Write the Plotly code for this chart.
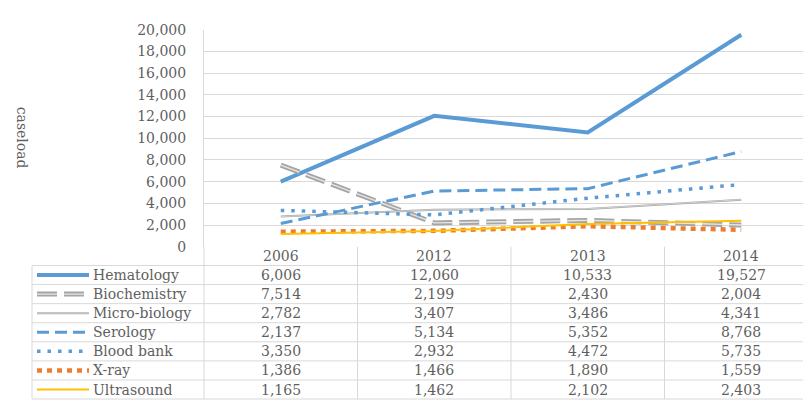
import plotly.graph_objects as go

# ---- data -------------------------------------------------------------
years = ["2006", "2012", "2013", "2014"]
hematology = [6006, 12060, 10533, 19527]
biochemistry = [7514, 2199, 2430, 2004]
microbiology = [2782, 3407, 3486, 4341]
serology = [2137, 5134, 5352, 8768]
blood_bank = [3350, 2932, 4472, 5735]
xray = [1386, 1466, 1890, 1559]
ultrasound = [1165, 1462, 2102, 2403]

y_ticks = list(range(0, 20001, 2000))

W, H = 803, 408
FONT = "DejaVu Serif"
TXT = "#5f5f5f"
GRID = "#D9D9D9"
FS = 14

series = [
    ("Hematology", hematology, dict(color="#5B9BD5", width=4, dash="solid")),
    ("Biochemistry", biochemistry, dict(color="#A5A5A5", width=5, dash="20px,7px")),
    ("Micro-biology", microbiology, dict(color="#A5A5A5", width=2, dash="solid")),
    ("Serology", serology, dict(color="#5B9BD5", width=3, dash="12px,6px")),
    ("Blood bank", blood_bank, dict(color="#5B9BD5", width=3.5, dash="3.5px,7px")),
    ("X-ray", xray, dict(color="#ED7D31", width=4.5, dash="5px,5px")),
    ("Ultrasound", ultrasound, dict(color="#FFC000", width=2, dash="solid")),
]

# inner highlight for the double-stroke styles
inner = {
    "Biochemistry": dict(color="#E6E6E6", width=1.4, dash="20px,7px"),
    "Micro-biology": dict(color="#EFEFEF", width=0.6, dash="solid"),
}

fig = go.Figure()
for name, vals, ln in series:
    fig.add_trace(go.Scatter(x=years, y=vals, mode="lines", name=name,
                             line=ln, showlegend=False, hoverinfo="skip"))
    if name in inner:
        fig.add_trace(go.Scatter(x=years, y=vals, mode="lines",
                                 line=inner[name], showlegend=False,
                                 hoverinfo="skip"))

# ---- layout geometry (pixels -> paper) --------------------------------
def px(x):
    return x / W

def py(y):
    return 1 - y / H

plot_left = 204
plot_top = 22.5
plot_bottom = 248.5
col_w = 153.5
cols = [plot_left + i * col_w for i in range(len(years) + 1)]
x_right_units = (W - plot_left) / col_w - 0.5

fig.update_layout(
    width=W, height=H,
    margin=dict(l=0, r=0, t=0, b=0),
    paper_bgcolor="white", plot_bgcolor="white",
    font=dict(family=FONT, color=TXT, size=FS),
    xaxis=dict(domain=[px(plot_left), 1], range=[-0.5, x_right_units],
               type="category", showticklabels=False, showgrid=False,
               zeroline=False, showline=False, fixedrange=True),
    yaxis=dict(domain=[py(plot_bottom), py(plot_top)], range=[0, 20000],
               tickvals=y_ticks, tickformat=",", showgrid=True,
               gridcolor=GRID, gridwidth=1, zeroline=False,
               showline=True, linecolor=GRID, linewidth=1,
               ticks="outside", ticklen=0, ticklabelstandoff=14,
               tickfont=dict(family=FONT, size=FS, color=TXT),
               fixedrange=True),
)

# y-axis title
fig.add_annotation(x=px(22), y=py(135), xref="paper", yref="paper",
                   text="caseload", textangle=90, showarrow=False,
                   xanchor="center", yanchor="middle",
                   font=dict(family=FONT, size=FS, color=TXT))

# ---- data table -------------------------------------------------------
shapes = []
header_top = plot_bottom
header_bot = 268
row_h = (407 - header_bot) / len(series)
row_edges = [header_bot + i * row_h for i in range(len(series) + 1)]
table_left = 32

def hline(x0, x1, y):
    shapes.append(dict(type="line", xref="paper", yref="paper",
                       x0=px(x0), x1=px(x1), y0=py(y), y1=py(y),
                       line=dict(color=GRID, width=1)))

def vline(x, y0, y1):
    shapes.append(dict(type="line", xref="paper", yref="paper",
                       x0=px(x), x1=px(x), y0=py(y0), y1=py(y1),
                       line=dict(color=GRID, width=1)))

for y in row_edges:
    hline(table_left, W, y)
vline(table_left, row_edges[0], row_edges[-1])
for x in cols:
    if x <= W:
        vline(x, header_top, row_edges[-1])

# header row
for i, yr in enumerate(years):
    cx = (cols[i] + cols[i + 1]) / 2
    fig.add_annotation(x=px(cx), y=py((header_top + header_bot) / 2),
                       xref="paper", yref="paper", text=yr,
                       showarrow=False, xanchor="center", yanchor="middle",
                       font=dict(family=FONT, size=FS, color=TXT))

# body rows: legend key, name, values
for r, (name, vals, ln) in enumerate(series):
    cy = (row_edges[r] + row_edges[r + 1]) / 2
    shapes.append(dict(type="line", xref="paper", yref="paper",
                       x0=px(37), x1=px(89), y0=py(cy), y1=py(cy),
                       line=dict(color=ln["color"], width=ln["width"],
                                 dash=ln["dash"])))
    if name in inner:
        il = inner[name]
        shapes.append(dict(type="line", xref="paper", yref="paper",
                           x0=px(37), x1=px(89), y0=py(cy), y1=py(cy),
                           line=dict(color=il["color"], width=il["width"],
                                     dash=il["dash"])))
    fig.add_annotation(x=px(91), y=py(cy), xref="paper", yref="paper",
                       text=name, showarrow=False, xanchor="left",
                       yanchor="middle",
                       font=dict(family=FONT, size=FS, color=TXT))
    for i, v in enumerate(vals):
        cx = (cols[i] + cols[i + 1]) / 2
        fig.add_annotation(x=px(cx), y=py(cy), xref="paper", yref="paper",
                           text=f"{v:,}", showarrow=False,
                           xanchor="center", yanchor="middle",
                           font=dict(family=FONT, size=FS, color=TXT))

fig.update_layout(shapes=shapes)
fig.write_html("out.html")
